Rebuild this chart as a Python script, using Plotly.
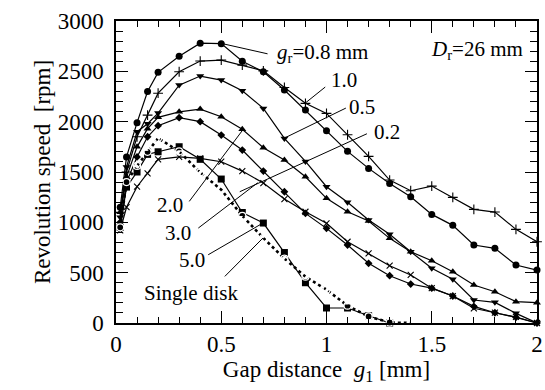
import plotly.graph_objects as go

# ---------------- data ----------------
gap = [0.02, 0.05, 0.1, 0.15, 0.2, 0.3, 0.4, 0.5, 0.6, 0.7, 0.8, 0.9, 1.0,
       1.1, 1.2, 1.3, 1.4, 1.5, 1.6, 1.7, 1.8, 1.9, 2.0]

gr08 = [1150, 1650, 1990, 2300, 2490, 2650, 2780, 2775, 2600, 2495, 2315, 2115,
        1910, 1705, 1536, 1385, 1254, 1079, 970, 775, 742, 576, 526]
gr10 = [1100, 1500, 1850, 2065, 2283, 2496, 2602, 2612, 2562, 2505, 2340, 2182,
        2082, 1870, 1655, 1420, 1314, 1360, 1248, 1129, 1102, 930, 807]
gr05 = [1050, 1550, 1900, 1980, 2085, 2363, 2453, 2413, 2307, 2132, 1834, 1605,
        1354, 1199, 1023, 881, 708, 543, 434, 228, 205, 96, 0]
gr02 = [1100, 1450, 1750, 1930, 2043, 2098, 2125, 2049, 1925, 1741, 1620, 1453,
        1238, 1105, 1013, 841, 708, 619, 510, 377, 311, 212, 202]
gr20 = [1000, 1400, 1650, 1850, 1960, 2040, 2000, 1867, 1718, 1509, 1304, 1089,
        940, 775, 593, 470, 387, 346, 268, 165, 102, 56, 0]
gr30 = [920, 1150, 1354, 1487, 1626, 1651, 1636, 1602, 1509, 1390, 1231, 1105,
        990, 807, 692, 569, 477, 346, 268, 146, 102, 60, 0]

gap50 = [0.02, 0.05, 0.1, 0.15, 0.2, 0.3, 0.4, 0.5, 0.6, 0.7, 0.8, 0.9, 1.0,
         1.1, 1.2, 1.3]
gr50 = [950, 1350, 1500, 1675, 1701, 1751, 1626, 1430, 1098, 993, 700, 400,
        149, 149, 72, 0]

gap_single = [0.02, 0.05, 0.1, 0.15, 0.2, 0.3, 0.4, 0.5, 0.6, 0.7, 0.8, 0.9,
              1.0, 1.1, 1.2, 1.3, 1.4]
single = [950, 1400, 1560, 1700, 1837, 1704, 1496, 1324, 1065, 844, 640, 460,
          331, 172, 65, 5, 0]

x_tickvals = [0, 0.5, 1, 1.5, 2]
x_ticktext = ["0", "0.5", "1", "1.5", "2"]
y_tickvals = [0, 500, 1000, 1500, 2000, 2500, 3000]
y_ticktext = ["0", "500", "1000", "1500", "2000", "2500", "3000"]

FONT = "Liberation Serif"

fig = go.Figure()

def add(xs, ys, symbol, size=7, dash="solid", lw=1.2, mlw=0, mcolor="black"):
    fig.add_trace(go.Scatter(
        x=xs, y=ys, mode="lines+markers", cliponaxis=False,
        line=dict(color="black", width=lw, dash=dash),
        marker=dict(symbol=symbol, size=size, color=mcolor,
                    line=dict(color="black", width=mlw)),
        showlegend=False))

add(gap, gr08, "circle", size=7)
add(gap, gr10, "cross-thin", size=7, mlw=1.1)
add(gap, gr05, "triangle-down", size=7)
add(gap, gr02, "triangle-up", size=7)
add(gap, gr20, "diamond", size=6)
add(gap, gr30, "x-thin", size=6, mlw=1.1)
add(gap50, gr50, "square", size=7)
add(gap_single, single, "circle-open", size=7, dash="dot", lw=2.6, mlw=1.2, mcolor="white")

# ---------------- annotations & leaders ----------------
labels = [
    ("<i>g</i><sub>r</sub>=0.8 mm", 0.753, 2684, "left"),
    ("1.0", 1.013, 2416, "left"),
    ("0.5", 1.098, 2148, "left"),
    ("0.2", 1.216, 1900, "left"),
    ("2.0", 0.328, 1175, "right"),
    ("3.0", 0.366, 897, "right"),
    ("5.0", 0.432, 629, "right"),
    ("Single disk", 0.125, 301, "left"),
    ("<i>D</i><sub>r</sub>=26 mm", 1.943, 2714, "right"),
]
for txt, xx, yy, anc in labels:
    fig.add_annotation(x=xx, y=yy, text=txt, showarrow=False, xanchor=anc,
                       yanchor="middle", font=dict(family=FONT, size=21, color="black"))

leaders = [
    (0.501, 2777, 0.72, 2674),
    (0.994, 2344, 0.895, 2178),
    (1.092, 2135, 0.80, 1837),
    (1.192, 1880, 0.588, 1304),
    (0.348, 1208, 0.603, 1920),
    (0.391, 943, 0.673, 1393),
    (0.438, 678, 0.698, 993),
    (0.517, 463, 0.698, 844),
]
for x0, y0, x1, y1 in leaders:
    fig.add_shape(type="line", x0=x0, y0=y0, x1=x1, y1=y1, xref="x", yref="y",
                  line=dict(color="black", width=1))

axis_common = dict(
    showgrid=False, zeroline=False, showline=True, linecolor="black", linewidth=1.5,
    mirror="allticks", ticks="inside", ticklen=12, tickwidth=1.2, tickcolor="black",
    tickfont=dict(family=FONT, size=23, color="black"), automargin=False,
)

fig.update_xaxes(range=[0, 2], tickmode="array", tickvals=x_tickvals, ticktext=x_ticktext,
                 minor=dict(dtick=0.1, ticks="inside", ticklen=6, tickwidth=1, tickcolor="black"),
                 title=dict(text="Gap distance  <i>g</i><sub>1</sub> [mm]",
                            font=dict(family=FONT, size=23, color="black"), standoff=4),
                 **axis_common)
fig.update_yaxes(range=[0, 3000], tickmode="array", tickvals=y_tickvals, ticktext=y_ticktext,
                 minor=dict(dtick=100, ticks="inside", ticklen=7, tickwidth=1, tickcolor="black"),
                 title=dict(text="Revolution speed  [rpm]",
                            font=dict(family=FONT, size=23, color="black"), standoff=1),
                 ticklabelstandoff=6,
                 **axis_common)

fig.update_layout(
    width=545, height=390,
    margin=dict(l=116, r=8, t=21, b=67, pad=0),
    paper_bgcolor="white", plot_bgcolor="white",
    font=dict(family=FONT, color="black"),
)

fig.write_html("out.html", config={"displayModeBar": False},
               post_script="document.body.style.margin='0px';document.body.style.overflow='hidden';")
